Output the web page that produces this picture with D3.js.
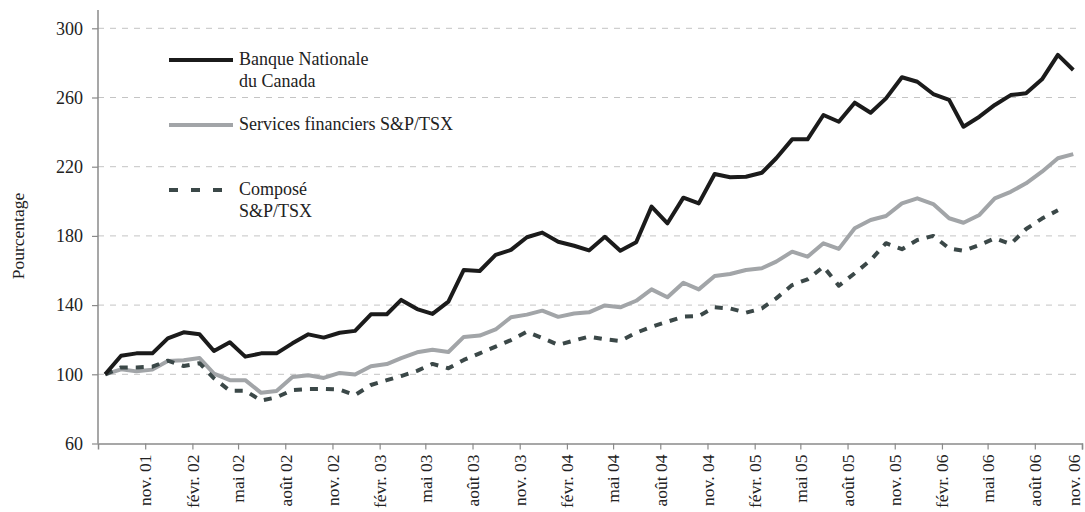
<!DOCTYPE html>
<html>
<head>
<meta charset="utf-8">
<script src="https://cdn.jsdelivr.net/npm/d3@7"></script>
<style>
    body { margin: 0; background: #fff; }
    .canvas { width: 1085px; height: 512px; }
    text { font-family: "Liberation Serif", "Times New Roman", serif; fill: #222; }
</style>
</head>
<body>
<div class="canvas"></div>
<script>
//---------------------------
// chart data, one value per month starting Aug 2001 (index 100)
const banque = [100, 110.7, 112.1, 112.1, 120.8, 124.3, 123.1, 113.5, 118.5, 110.2, 112.1, 112.1,
    117.9, 123.1, 121.2, 124.0, 125.1, 134.7, 134.7, 143.0, 137.7, 134.9, 142.0, 160.3,
    159.7, 169.0, 171.9, 179.2, 181.9, 176.6, 174.3, 171.6, 179.5, 171.4, 176.3, 196.9,
    187.3, 202.1, 198.8, 215.8, 213.9, 214.2, 216.5, 224.9, 235.8, 235.8, 249.9, 246.0,
    257.0, 251.2, 259.5, 271.7, 269.1, 262.0, 258.6, 243.1, 248.9, 255.7, 261.4, 262.4,
    270.5, 284.6, 275.9];

const services = [100, 102.9, 101.7, 102.7, 107.7, 108.1, 109.4, 100.4, 96.6, 96.6, 89.3, 90.4,
    98.5, 99.5, 97.9, 100.8, 99.9, 104.6, 105.9, 109.4, 112.7, 114.2, 112.9, 121.6,
    122.4, 125.9, 133.0, 134.5, 136.8, 133.2, 135.1, 135.8, 139.8, 138.7, 142.5, 149.1,
    144.5, 152.9, 149.1, 156.8, 158.0, 160.3, 161.3, 165.1, 170.9, 168.0, 175.7, 172.5,
    184.4, 189.2, 191.5, 198.8, 201.7, 198.4, 190.2, 187.6, 192.1, 201.7, 205.5, 210.4,
    217.1, 224.9, 227.3];

const compose = [100, 104.0, 104.0, 104.4, 107.9, 104.8, 106.4, 97.7, 90.5, 90.5, 84.8, 86.7,
    90.9, 91.5, 91.5, 91.2, 88.0, 93.8, 96.6, 99.0, 102.0, 106.0, 103.5, 108.3,
    112.1, 116.0, 119.8, 124.6, 121.0, 117.0, 119.5, 121.8, 120.2, 119.3, 124.0, 127.5,
    130.4, 133.3, 133.7, 138.7, 138.1, 135.6, 138.1, 143.9, 151.6, 154.9, 162.2, 151.2,
    158.4, 166.0, 175.8, 172.3, 177.6, 180.0, 172.8, 171.4, 174.7, 178.6, 175.3, 184.0,
    190.0, 194.8];

const tickLabels = ['nov. 01', 'févr. 02', 'mai 02', 'août 02', 'nov. 02', 'févr. 03', 'mai 03',
    'août 03', 'nov. 03', 'févr. 04', 'mai 04', 'août 04', 'nov. 04', 'févr. 05', 'mai 05',
    'août 05', 'nov. 05', 'févr. 06', 'mai 06', 'août 06', 'nov. 06'];

const yTicks = [60, 100, 140, 180, 220, 260, 300];
//---------------------------

const width = 1085, height = 512;
const firstPoint = new Date(2001, 7, 15);
const firstTick = new Date(2001, 10, 1);

const svg = d3.select('.canvas').append('svg')
    .attr('width', width)
    .attr('height', height);

svg.append('rect').attr('width', width).attr('height', height).attr('fill', '#fff');

// scales
const x = d3.scaleTime()
    .domain([new Date(2001, 7, 1), new Date(2006, 10, 1)])
    .range([98, 1082]);

const y = d3.scaleLinear()
    .domain([60, 300])
    .range([443.5, 28.3]);

const monthDate = i => d3.timeMonth.offset(firstPoint, i);
const tickDates = tickLabels.map((d, i) => d3.timeMonth.offset(firstTick, i * 3));

// horizontal gridlines (dashed)
svg.append('g')
    .selectAll('line')
    .data(yTicks.filter(d => d > 60))
    .join('line')
    .attr('x1', 98).attr('x2', 1082)
    .attr('y1', d => y(d)).attr('y2', d => y(d))
    .attr('stroke', '#c4c4c4')
    .attr('stroke-width', 1)
    .attr('stroke-dasharray', '6,6');

// y axis
const yAxis = d3.axisLeft(y).tickValues(yTicks).tickSize(6).tickPadding(9);
const yAxisGroup = svg.append('g').attr('transform', 'translate(98,0)').call(yAxis);
yAxisGroup.select('.domain').remove();
yAxisGroup.append('line')
    .attr('y1', 10).attr('y2', y(60))
    .attr('stroke', '#8a8a8a').attr('stroke-width', 1.5);
yAxisGroup.selectAll('.tick line').attr('stroke', '#8a8a8a').attr('stroke-width', 1.2);
yAxisGroup.selectAll('.tick text')
    .style('font-size', '18px')
    .attr('fill', '#222');

// x axis
const xAxis = d3.axisBottom(x)
    .tickValues(tickDates)
    .tickFormat((d, i) => tickLabels[i])
    .tickSize(6)
    .tickSizeOuter(6);
const xAxisGroup = svg.append('g').attr('transform', `translate(0,${y(60)})`).call(xAxis);
xAxisGroup.select('.domain').attr('stroke', '#8a8a8a').attr('stroke-width', 1.5);
xAxisGroup.selectAll('.tick line').attr('stroke', '#8a8a8a').attr('stroke-width', 1.2);
xAxisGroup.selectAll('.tick text')
    .style('font-size', '17.5px')
    .attr('fill', '#222')
    .attr('text-anchor', 'end')
    .attr('transform', 'rotate(-90)')
    .attr('x', -11)
    .attr('y', (d, i) => i === tickLabels.length - 1 ? -8 : 0) // keep the last label inside the frame
    .attr('dy', '0.33em');

// y axis title
svg.append('text')
    .attr('transform', 'translate(18,236) rotate(-90)')
    .attr('text-anchor', 'middle')
    .attr('dy', '0.35em')
    .style('font-size', '17.5px')
    .text('Pourcentage');

// lines
const line = d3.line()
    .x((d, i) => x(monthDate(i)))
    .y(d => y(d));

const series = [
    { name: 'services', values: services, color: '#a2a5a8', dash: null },
    { name: 'compose', values: compose, color: '#3b4848', dash: '8,8' },
    { name: 'banque', values: banque, color: '#1b1b1b', dash: null }
];

svg.append('g')
    .selectAll('path')
    .data(series)
    .join('path')
    .attr('d', d => line(d.values))
    .attr('fill', 'none')
    .attr('stroke', d => d.color)
    .attr('stroke-width', 4)
    .attr('stroke-linejoin', 'round')
    .attr('stroke-dasharray', d => d.dash);

// legend
const legendItems = [
    { lines: ['Banque Nationale', 'du Canada'], y: 60, color: '#1b1b1b', dash: null },
    { lines: ['Services financiers S&P/TSX'], y: 125, color: '#a2a5a8', dash: null },
    { lines: ['Composé', 'S&P/TSX'], y: 190, color: '#3b4848', dash: '9,13' }
];

const legend = svg.append('g');
legendItems.forEach(item => {
    legend.append('line')
        .attr('x1', 169).attr('x2', 233)
        .attr('y1', item.y).attr('y2', item.y)
        .attr('stroke', item.color)
        .attr('stroke-width', 4)
        .attr('stroke-dasharray', item.dash);
    item.lines.forEach((t, j) => {
        legend.append('text')
            .attr('x', 239)
            .attr('y', item.y - 1 + j * 21.5)
            .attr('dy', '0.35em')
            .style('font-size', '18px')
            .text(t);
    });
});
</script>
</body>
</html>
